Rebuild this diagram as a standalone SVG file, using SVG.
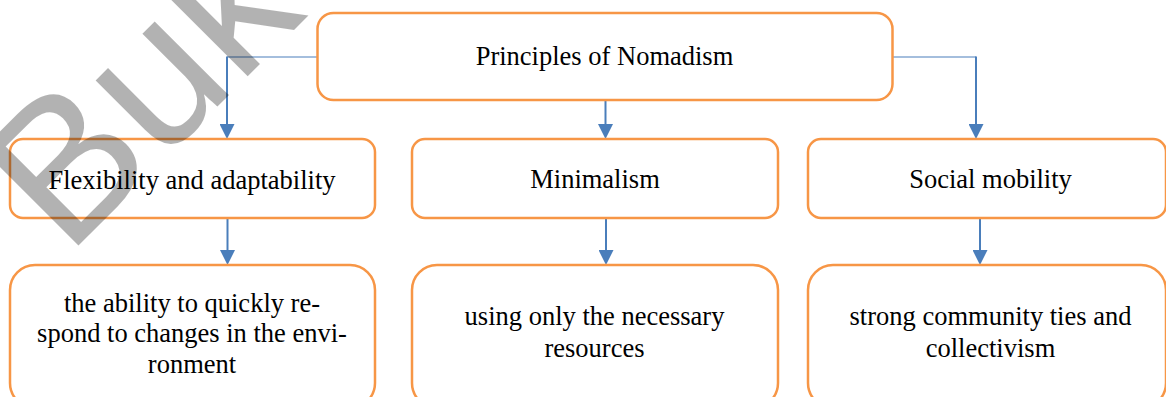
<svg xmlns="http://www.w3.org/2000/svg" width="1166" height="397" viewBox="0 0 1166 397">
  <style>
    .box { fill: #ffffff; stroke: #f79646; stroke-width: 2.5; }
    .lbl { font-family: "Liberation Serif", "Times New Roman", serif; font-size: 26.5px; fill: #000000; text-anchor: middle; }
    .conn { fill: none; stroke: #4a7ebb; stroke-width: 2; }
    .thin { fill: none; stroke: #4a7ebb; stroke-width: 1.2; }
    .wm { font-family: "Liberation Sans", Arial, sans-serif; font-size: 198px; fill: #000000; fill-opacity: 0.3; }
  </style>
  <defs>
    <marker id="arr" markerUnits="userSpaceOnUse" markerWidth="15" markerHeight="15" refX="11" refY="7.5" orient="auto">
      <path d="M0,0 L15,7.5 L0,15 z" fill="#4a7ebb"/>
    </marker>
  </defs>
  <rect width="1166" height="397" fill="#ffffff"/>

  <g id="connectors">
    <path class="thin" d="M317.5,57 H227"/>
    <path class="conn" d="M227,56.5 V135" marker-end="url(#arr)"/>
    <path class="thin" d="M892.5,57 H976"/>
    <path class="conn" d="M976,56.5 V135" marker-end="url(#arr)"/>
    <path class="conn" d="M605.5,100 V135" marker-end="url(#arr)"/>
    <path class="conn" d="M227.5,218 V261" marker-end="url(#arr)"/>
    <path class="conn" d="M606,218 V261" marker-end="url(#arr)"/>
    <path class="conn" d="M980,218 V261" marker-end="url(#arr)"/>
  </g>

  <g id="node-root">
    <rect class="box" x="317.5" y="13" width="575" height="87" rx="16" ry="16"/>
    <text class="lbl" x="604.5" y="65">Principles of Nomadism</text>
  </g>

  <g id="node-flexibility">
    <rect class="box" x="10" y="139" width="365" height="79" rx="13" ry="13"/>
    <text class="lbl" x="192" y="189">Flexibility and adaptability</text>
  </g>
  <g id="node-minimalism">
    <rect class="box" x="412" y="139" width="366" height="79" rx="13" ry="13"/>
    <text class="lbl" x="595" y="188">Minimalism</text>
  </g>
  <g id="node-social">
    <rect class="box" x="808" y="139" width="358" height="79" rx="13" ry="13"/>
    <text class="lbl" x="990.5" y="188">Social mobility</text>
  </g>

  <g id="node-flexibility-desc">
    <rect class="box" x="10" y="265" width="365" height="143" rx="25" ry="25"/>
    <text class="lbl" x="192" y="312">the ability to quickly re-</text>
    <text class="lbl" x="192" y="342">spond to changes in the envi-</text>
    <text class="lbl" x="192" y="373">ronment</text>
  </g>
  <g id="node-minimalism-desc">
    <rect class="box" x="412" y="265" width="366" height="143" rx="25" ry="25"/>
    <text class="lbl" x="594.5" y="325">using only the necessary</text>
    <text class="lbl" x="594.5" y="357">resources</text>
  </g>
  <g id="node-social-desc">
    <rect class="box" x="808" y="265" width="358" height="143" rx="25" ry="25"/>
    <text class="lbl" x="990.5" y="325">strong community ties and</text>
    <text class="lbl" x="990.5" y="357">collectivism</text>
  </g>

  <text class="wm" x="67" y="257" transform="rotate(-45 67 257)">Buk</text>
</svg>
